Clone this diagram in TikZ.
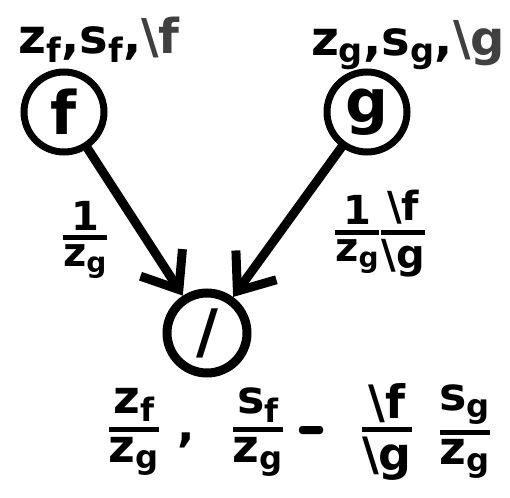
\documentclass[tikz,border=0pt]{standalone}
\usepackage{fix-cm}
\usepackage{amsmath}
\usepackage{xcolor}
\usepackage{fontspec}
\setmainfont{DejaVu Sans}
\usetikzlibrary{arrows.meta}
\newcommand\vv[2]{\text{#1}_{\text{#2}}}
\newcommand\hfr[2]{\genfrac{}{}{5pt}{1}{\textstyle #1}{\textstyle #2}}
\newcommand\bsl{\text{\textbackslash}}
\newcommand\gry[1]{\textcolor{black!75}{#1}}
\newcommand\cm{\text{,}}
\tikzset{
  opnode/.style={circle, draw, line width=7pt, minimum size=80pt, inner sep=0pt,
    font=\fontsize{60}{64}\selectfont\bfseries},
  link/.style={line width=9pt, line cap=round,
    -{Straight Barb[length=32pt,width=50pt]}},
  toplbl/.style={inner sep=0pt, font=\fontsize{48}{52}\selectfont\bfseries},
  edgelbl/.style={inner sep=0pt, font=\fontsize{40}{44}\selectfont\bfseries},
  botlbl/.style={inner sep=0pt, font=\fontsize{46}{50}\selectfont\bfseries}
}
\begin{document}
\begin{tikzpicture}[x=1pt,y=-1pt]
\useasboundingbox (0,0) rectangle (510,497);
\node[opnode] (f) at (64,112) {f};
\node[opnode] (g) at (367,112) {g};
\node[opnode, line width=9pt] (div) at (207,333) {/};
\draw[link] (f) -- (div);
\draw[link] (g) -- (div);
\node[toplbl] (tf) at (99,40) {$\vv{z}{f}\cm\vv{s}{f}\cm\gry{\bsl\text{f}}$};
\node[toplbl] (tg) at (408,45) {$\vv{z}{g}\cm\vv{s}{g}\cm\gry{\bsl\text{g}}$};
\node[edgelbl] (ef) at (85,240) {$\hfr{\text{1}}{\vv{z}{g}}$};
\node[edgelbl] (eg) at (380,234) {$\hfr{\text{1}}{\vv{z}{g}}\hfr{\bsl\text{f}}{\bsl\text{g}}$};
\node[botlbl] (r1) at (134,432) {$\hfr{\vv{z}{f}}{\vv{z}{g}}$};
\node[botlbl] (rc) at (186,440) {,};
\node[botlbl] (r2) at (258,432) {$\hfr{\vv{s}{f}}{\vv{z}{g}}$};
\node[fill, minimum width=24pt, minimum height=8pt, inner sep=0pt, rounded corners=3pt] (rm) at (311,430) {};
\node[botlbl] (r3) at (387,432) {$\hfr{\bsl\text{f}}{\bsl\text{g}}$};
\node[botlbl] (r4) at (465,432) {$\hfr{\vv{s}{g}}{\vv{z}{g}}$};
\end{tikzpicture}
\end{document}
